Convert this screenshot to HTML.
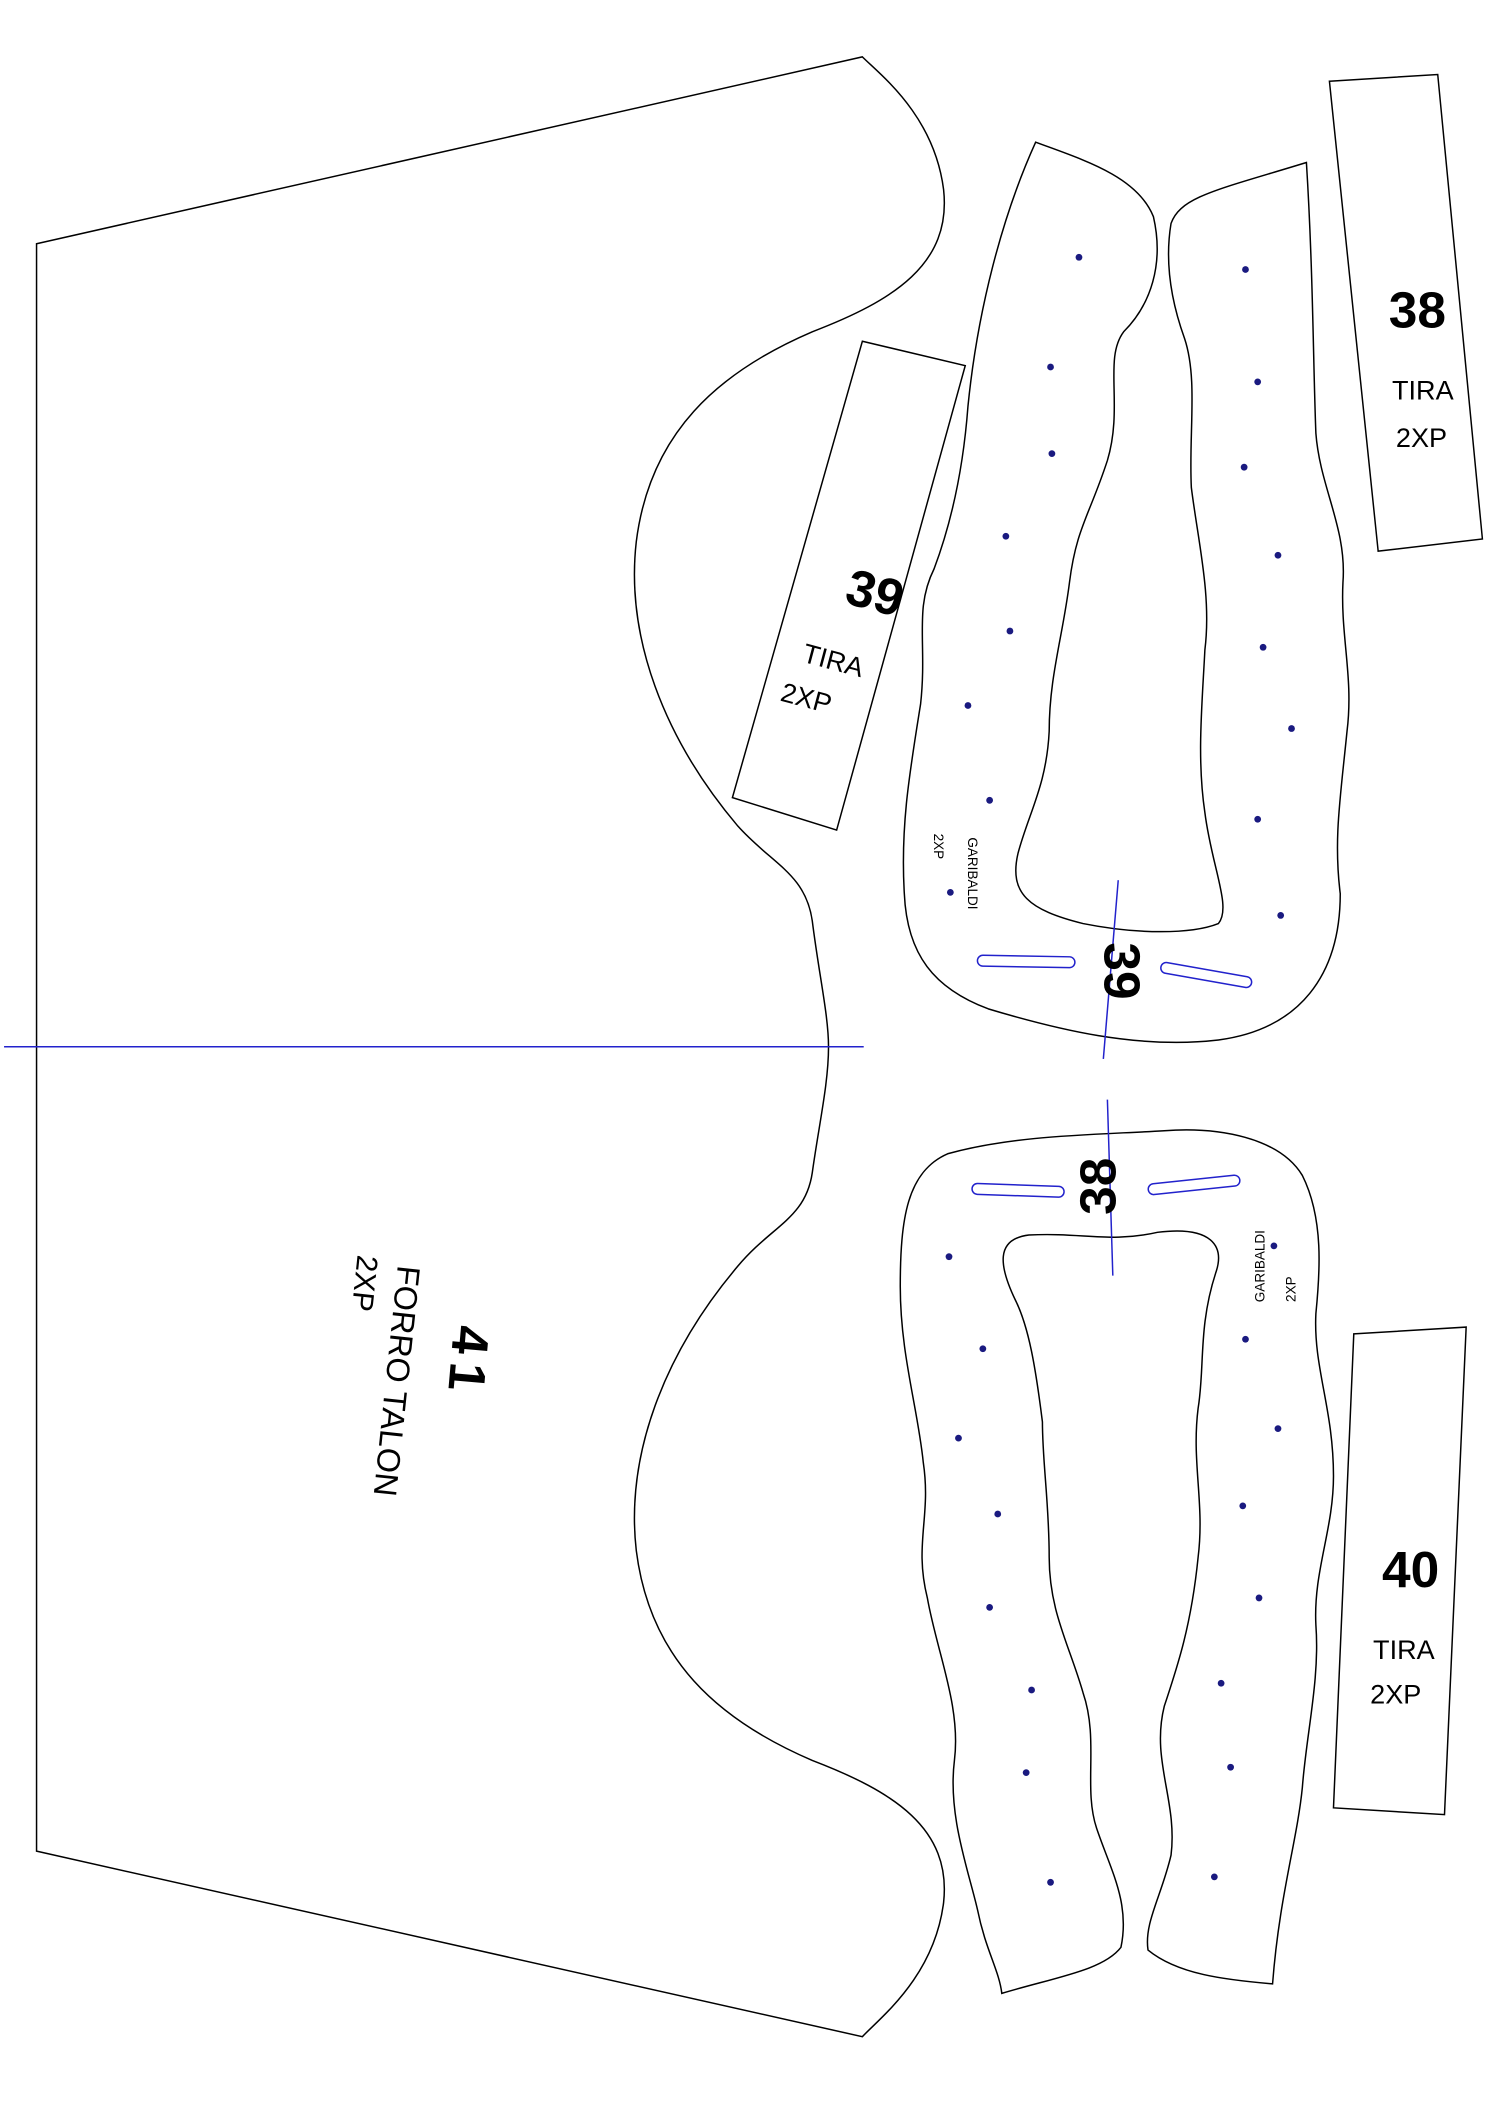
<!DOCTYPE html>
<html><head><meta charset="utf-8"><style>
html,body{margin:0;padding:0;background:#fff}
svg{display:block}
text{font-family:"Liberation Sans",sans-serif;fill:#000}
</style></head><body>
<svg width="1500" height="2122" viewBox="0 0 1108 1567" preserveAspectRatio="none" xmlns="http://www.w3.org/2000/svg">
<rect width="1108" height="1567" fill="#fff"/>
<g fill="none" stroke="#000" stroke-width="1.1">
<path d="M27,180 L637,42 C650,55 690,85 697,140 C703,195 660,222 600,245 C530,275 480,320 470,400 C462,470 490,545 545,610 C570,638 595,645 600,680 C605,720 612,750 612,773 C612,800 605,830 600,866 C595,900 570,905 545,935 C490,1000 462,1075 470,1145 C480,1225 530,1270 600,1300 C660,1323 703,1350 697,1405 C690,1460 650,1490 637,1504 L27,1367 Z"/>
<path d="M765,105 C800,118 840,130 852,160 C860,195 850,225 830,245 C815,265 830,300 818,340 C805,380 795,390 790,430 C785,470 775,500 775,540 C773,580 760,600 752,630 C745,660 760,672 800,682 C840,690 880,690 900,682 C910,670 895,640 890,600 C884,560 888,520 890,480 C895,440 885,400 880,360 C878,320 885,280 875,250 C866,225 860,195 865,165 C872,145 900,140 965,120 C970,200 970,270 972,320 C975,360 995,390 992,430 C990,470 1000,500 995,540 C990,590 985,620 990,660 C990,720 960,760 900,768 C840,775 780,760 730,745 C690,730 670,705 668,660 C665,610 672,570 680,520 C685,475 675,450 690,420 C705,380 712,340 715,300 C722,230 740,160 765,105 Z"/>
<path d="M740,1472 C780,1460 815,1455 828,1438 C835,1405 820,1380 810,1350 C800,1320 812,1285 800,1250 C790,1215 775,1190 775,1150 C775,1110 770,1080 770,1050 C765,1010 760,980 750,960 C738,935 735,915 760,912 C800,910 820,918 855,910 C895,905 905,920 898,940 C885,980 890,1010 885,1040 C880,1080 890,1110 885,1150 C880,1200 870,1230 860,1260 C850,1300 870,1330 865,1370 C858,1400 845,1420 848,1440 C870,1458 905,1462 940,1465 C945,1400 958,1360 962,1320 C965,1280 975,1240 972,1200 C970,1160 985,1130 985,1090 C985,1040 970,1010 972,970 C975,940 978,900 962,868 C945,840 900,832 860,835 C810,838 750,838 700,852 C670,865 665,900 665,950 C665,1000 678,1040 682,1080 C688,1120 675,1140 685,1180 C692,1220 710,1260 705,1300 C700,1340 715,1380 722,1410 C728,1440 738,1455 740,1472 Z"/>
<path d="M637,252 L713,270 L618,613 L541,589 Z"/>
<path d="M982,60 L1062,55 L1095,398 L1018,407 Z"/>
<path d="M1000,985 L1083,980 L1067,1340 L985,1335 Z"/>
</g>
<g stroke="#2222cc" stroke-width="1.1" fill="none">
<line x1="3" y1="773" x2="638" y2="773"/>
<line x1="826" y1="650" x2="815" y2="782"/>
<line x1="818" y1="812" x2="822" y2="942"/>
<rect x="722" y="706" width="72" height="8" rx="4" transform="rotate(1 758 710)"/>
<rect x="857" y="716" width="68" height="8" rx="4" transform="rotate(10 891 720)"/>
<rect x="718" y="875" width="68" height="8" rx="4" transform="rotate(2 752 879)"/>
<rect x="848" y="871" width="68" height="8" rx="4" transform="rotate(-6 882 875)"/>
</g>
<g fill="#1a1a80">
<circle cx="797" cy="190" r="2.5"/><circle cx="776" cy="271" r="2.5"/><circle cx="777" cy="335" r="2.5"/><circle cx="743" cy="396" r="2.5"/><circle cx="746" cy="466" r="2.5"/><circle cx="715" cy="521" r="2.5"/><circle cx="731" cy="591" r="2.5"/><circle cx="702" cy="659" r="2.5"/>
<circle cx="920" cy="199" r="2.5"/><circle cx="929" cy="282" r="2.5"/><circle cx="919" cy="345" r="2.5"/><circle cx="944" cy="410" r="2.5"/><circle cx="933" cy="478" r="2.5"/><circle cx="954" cy="538" r="2.5"/><circle cx="929" cy="605" r="2.5"/><circle cx="946" cy="676" r="2.5"/>
<circle cx="701" cy="928" r="2.5"/><circle cx="726" cy="996" r="2.5"/><circle cx="708" cy="1062" r="2.5"/><circle cx="737" cy="1118" r="2.5"/><circle cx="731" cy="1187" r="2.5"/><circle cx="762" cy="1248" r="2.5"/><circle cx="758" cy="1309" r="2.5"/><circle cx="776" cy="1390" r="2.5"/>
<circle cx="941" cy="920" r="2.5"/><circle cx="920" cy="989" r="2.5"/><circle cx="944" cy="1055" r="2.5"/><circle cx="918" cy="1112" r="2.5"/><circle cx="930" cy="1180" r="2.5"/><circle cx="902" cy="1243" r="2.5"/><circle cx="909" cy="1305" r="2.5"/><circle cx="897" cy="1386" r="2.5"/>
</g>
<text x="1047" y="242" font-size="38" text-anchor="middle" font-weight="bold">38</text>
<text x="1051" y="295" font-size="20" text-anchor="middle">TIRA</text>
<text x="1050" y="330" font-size="20" text-anchor="middle">2XP</text>
<g transform="rotate(15 630 480)">
<text x="635" y="448" font-size="38" text-anchor="middle" font-weight="bold">39</text>
<text x="618" y="498" font-size="20" text-anchor="middle">TIRA</text>
<text x="606" y="530" font-size="20" text-anchor="middle">2XP</text>
</g>
<text x="1042" y="1172" font-size="38" text-anchor="middle" font-weight="bold">40</text>
<text x="1037" y="1225" font-size="20" text-anchor="middle">TIRA</text>
<text x="1031" y="1258" font-size="20" text-anchor="middle">2XP</text>
<g transform="translate(333,1005) rotate(95)"><text font-size="38" text-anchor="middle" font-weight="bold" letter-spacing="6">41</text></g>
<g transform="translate(285,1019) rotate(96)"><text font-size="24" text-anchor="middle">FORRO TALON</text></g>
<g transform="translate(262,947) rotate(96)"><text font-size="22" text-anchor="middle">2XP</text></g>
<g transform="translate(816,717) rotate(90)"><text font-size="38" text-anchor="middle" font-weight="bold">39</text></g>
<g transform="translate(824,876) rotate(-90)"><text font-size="38" text-anchor="middle" font-weight="bold">38</text></g>
<g transform="translate(715,645) rotate(90)"><text font-size="10" text-anchor="middle">GARIBALDI</text></g>
<g transform="translate(690,625) rotate(90)"><text font-size="10" text-anchor="middle">2XP</text></g>
<g transform="translate(934,935) rotate(-90)"><text font-size="10" text-anchor="middle">GARIBALDI</text></g>
<g transform="translate(957,952) rotate(-90)"><text font-size="10" text-anchor="middle">2XP</text></g>
</svg>
</body></html>
